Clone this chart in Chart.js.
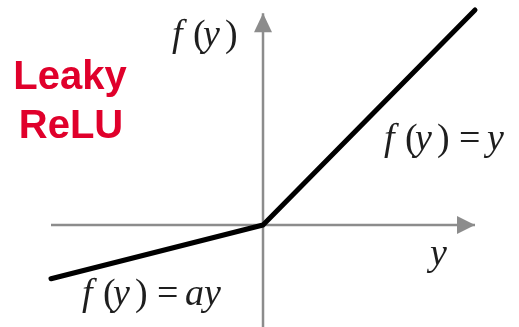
<!DOCTYPE html>
<html lang="en">
<head>
  <meta charset="UTF-8">
  <title>Leaky ReLU</title>
  <style>
    html, body { margin: 0; padding: 0; background: #fff; }
    canvas { display: block; }
  </style>
</head>
<body>
  <canvas id="plot" width="519" height="327"></canvas>
  <script src="https://cdn.jsdelivr.net/npm/chart.js@4.4.0/dist/chart.umd.min.js"></script>
  <script>
    // function: f(y) = y for y > 0, f(y) = a*y for y < 0 (a = 0.25)
    const inputs = [-1, 0, 1];
    const outputs = [-0.25, 0, 1];

    // axis extents (arrow tips at the positive ends)
    const hAxisX = [-1.0, 1.0];
    const vAxisY = [-0.6, 0.985];

    const axisGray = '#8c8c8c';

    const toPoints = (xs, ys) => xs.map((x, i) => ({ x, y: ys[i] }));

    const arrows = {
      id: 'arrows',
      afterDatasetsDraw(chart) {
        const { ctx, scales: { x, y } } = chart;
        ctx.save();
        ctx.fillStyle = axisGray;
        // horizontal arrow
        const hx = x.getPixelForValue(hAxisX[1]);
        const hy = y.getPixelForValue(0);
        ctx.beginPath();
        ctx.moveTo(hx, hy);
        ctx.lineTo(hx - 18, hy - 9);
        ctx.lineTo(hx - 18, hy + 9);
        ctx.closePath();
        ctx.fill();
        // vertical arrow
        const vx = x.getPixelForValue(0);
        const vy = y.getPixelForValue(vAxisY[1]);
        ctx.beginPath();
        ctx.moveTo(vx, vy);
        ctx.lineTo(vx - 9, vy + 19);
        ctx.lineTo(vx + 9, vy + 19);
        ctx.closePath();
        ctx.fill();
        ctx.restore();
      }
    };

    // math-style text: italic letters, upright parens and '='
    const ITALIC = 'italic 38px "Liberation Serif", "Times New Roman", serif';
    const UPRIGHT = '38px "Liberation Serif", "Times New Roman", serif';

    function drawMath(ctx, x, y, rhs) {
      const parts = [
        ['f', ITALIC, 0],
        ['(', UPRIGHT, 21],
        ['y', ITALIC, 31],
        [')', UPRIGHT, 53]
      ];
      if (rhs) {
        parts.push(['=', UPRIGHT, 75]);
        parts.push([rhs, ITALIC, 103]);
      }
      for (const [txt, font, dx] of parts) {
        ctx.font = font;
        ctx.fillText(txt, x + dx, y);
      }
    }

    const labels = {
      id: 'labels',
      afterDraw(chart) {
        const { ctx } = chart;
        ctx.save();
        ctx.fillStyle = '#e0002b';
        ctx.font = 'bold 40px "Liberation Sans", Arial, sans-serif';
        ctx.textAlign = 'center';
        ctx.textBaseline = 'alphabetic';
        ctx.fillText('Leaky', 70, 89);
        ctx.fillText('ReLU', 71, 138);

        ctx.fillStyle = '#1e1e1e';
        ctx.textAlign = 'left';
        drawMath(ctx, 172, 46);
        drawMath(ctx, 384, 150, 'y');
        drawMath(ctx, 82, 305, 'ay');
        ctx.font = ITALIC;
        ctx.fillText('y', 430, 265);
        ctx.restore();
      }
    };

    new Chart(document.getElementById('plot'), {
      type: 'scatter',
      data: {
        datasets: [
          {
            data: toPoints(inputs, outputs),
            showLine: true,
            borderColor: '#000',
            borderWidth: 5,
            pointRadius: 0,
            borderJoinStyle: 'round',
            borderCapStyle: 'round',
            order: 0
          },
          {
            data: toPoints(hAxisX, [0, 0]),
            showLine: true,
            borderColor: axisGray,
            borderWidth: 2.5,
            pointRadius: 0,
            order: 1
          },
          {
            data: toPoints([0, 0], vAxisY),
            showLine: true,
            borderColor: axisGray,
            borderWidth: 2.5,
            pointRadius: 0,
            order: 1
          }
        ]
      },
      options: {
        responsive: false,
        animation: false,
        layout: { padding: 0 },
        plugins: { legend: { display: false }, tooltip: { enabled: false } },
        scales: {
          x: { type: 'linear', display: false, min: -1.2406, max: 1.2075 },
          y: { type: 'linear', display: false, min: -0.4744, max: 1.0465 }
        }
      },
      plugins: [arrows, labels]
    });
  </script>
</body>
</html>
